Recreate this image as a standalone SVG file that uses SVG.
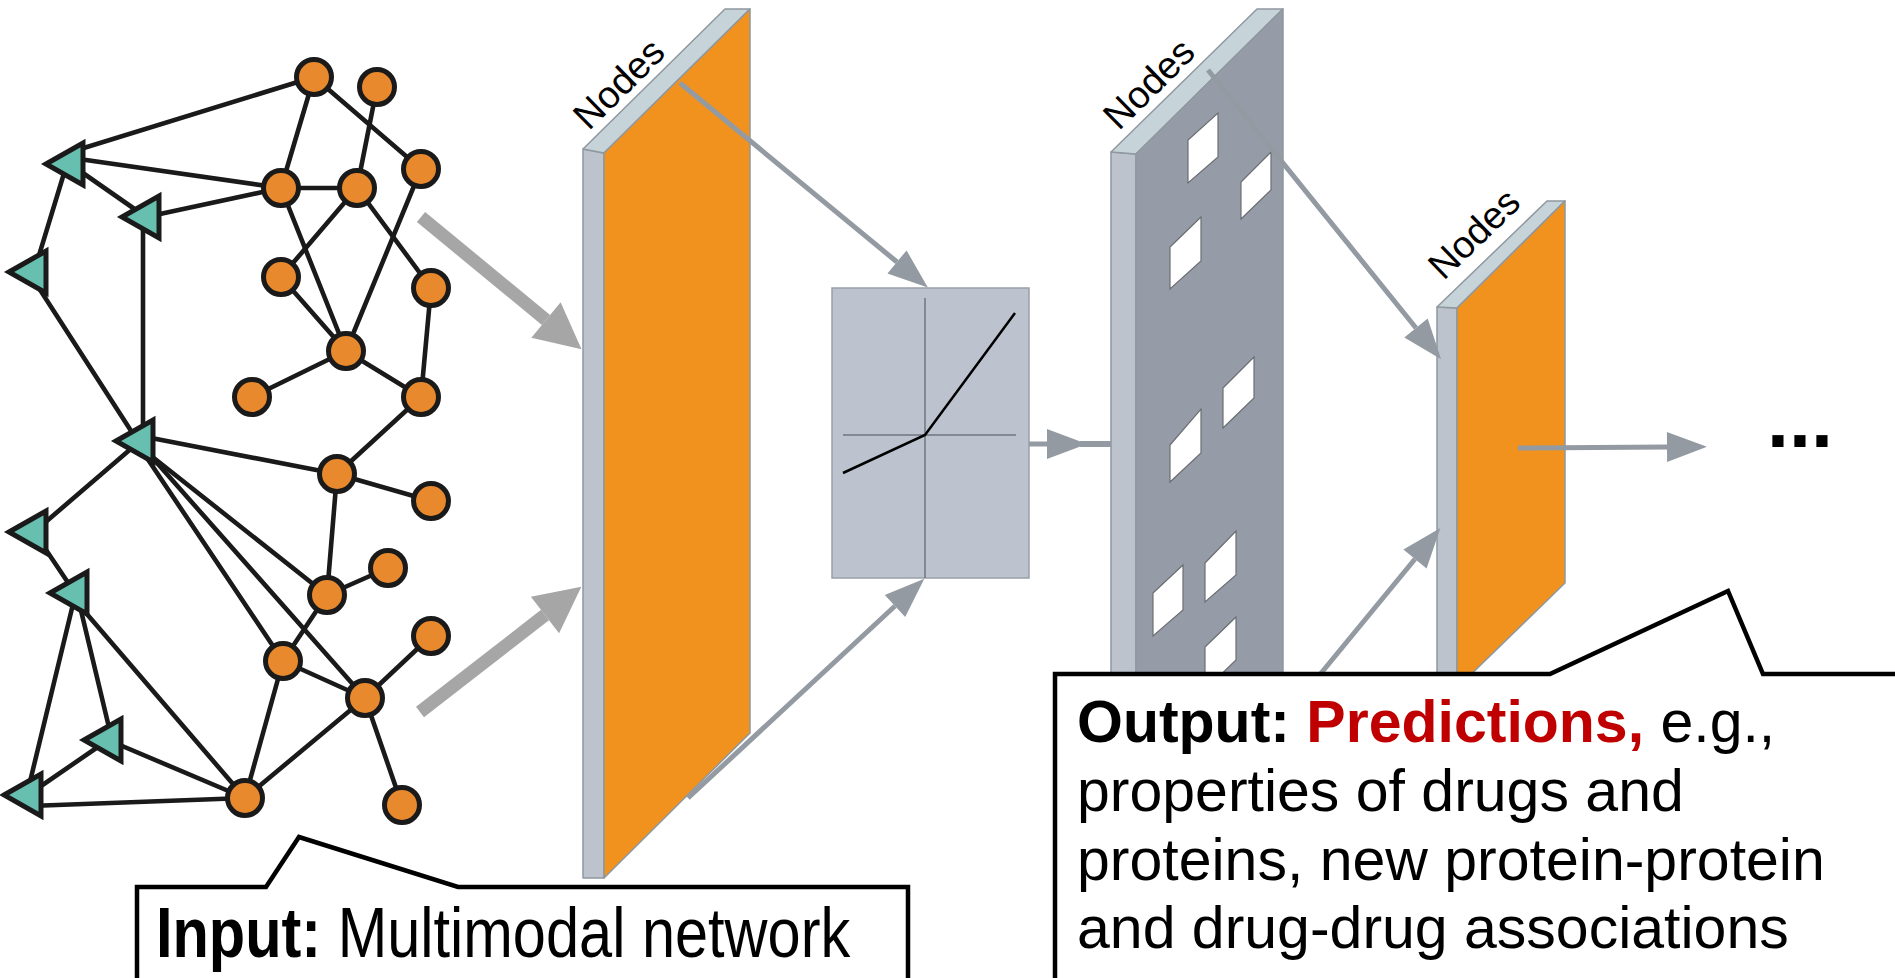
<svg xmlns="http://www.w3.org/2000/svg" width="1895" height="978" viewBox="0 0 1895 978">
  <defs>
    <style>
      .edge { stroke:#1a1a1a; stroke-width:4.6; fill:none; stroke-linecap:round; }
      .prot { fill:#e8892e; stroke:#1a1a1a; stroke-width:5; }
      .drug { fill:#67bfb0; stroke:#1a1a1a; stroke-width:5; stroke-linejoin:miter; }
      .top { fill:#c6d3d9; stroke:#8f989f; stroke-width:1.5; stroke-linejoin:round; }
      .side { fill:#bcc3cd; stroke:#8f989f; stroke-width:1.5; stroke-linejoin:round; }
      .orange { fill:#f2921e; stroke:#8f989f; stroke-width:1.5; stroke-linejoin:round; }
      .slate { fill:#969ca7; stroke:#8f989f; stroke-width:1.5; stroke-linejoin:round; }
      .hole { fill:#ffffff; stroke:#6b6e72; stroke-width:1.2; }
      .thick { stroke:#a6a6a6; stroke-width:13; fill:none; marker-end:url(#headThick); }
      .thin { stroke:#939aa1; stroke-width:5; fill:none; marker-end:url(#head); }
      .thin6 { stroke:#939aa1; stroke-width:6; fill:none; }
      .txt { font-family:"Liberation Sans", Arial, Helvetica, sans-serif; fill:#000; }
      .callout { fill:#ffffff; stroke:#000; stroke-width:4.5; stroke-linejoin:miter; }
    </style>
    <marker id="headThick" markerUnits="userSpaceOnUse" markerWidth="47" markerHeight="47" refX="0" refY="23" orient="auto" overflow="visible">
      <path d="M0,0 L46,23 L0,46 Z" fill="#a6a6a6"/>
    </marker>
    <marker id="head" markerUnits="userSpaceOnUse" markerWidth="41" markerHeight="31" refX="0" refY="15" orient="auto" overflow="visible">
      <path d="M0,0 L40,15 L0,30 Z" fill="#939aa1"/>
    </marker>
    <path id="tri" d="M1,0 L38,-21 L38,21 Z"/>
  </defs>

  <rect width="1895" height="978" fill="#ffffff"/>

  <!-- multimodal input network: links -->
  <g id="network-links">
    <line class="edge" x1="314" y1="77" x2="74" y2="151"/>
    <line class="edge" x1="281" y1="188" x2="72" y2="158"/>
    <line class="edge" x1="70" y1="164" x2="146" y2="217"/>
    <line class="edge" x1="281" y1="188" x2="146" y2="217"/>
    <line class="edge" x1="65" y1="170" x2="37" y2="262"/>
    <line class="edge" x1="143" y1="220" x2="143" y2="440"/>
    <line class="edge" x1="35" y1="282" x2="135" y2="437"/>
    <line class="edge" x1="314" y1="77" x2="281" y2="188"/>
    <line class="edge" x1="314" y1="77" x2="421" y2="169"/>
    <line class="edge" x1="377" y1="87" x2="357" y2="188"/>
    <line class="edge" x1="281" y1="188" x2="357" y2="188"/>
    <line class="edge" x1="357" y1="188" x2="281" y2="277"/>
    <line class="edge" x1="281" y1="188" x2="346" y2="351"/>
    <line class="edge" x1="357" y1="188" x2="431" y2="288"/>
    <line class="edge" x1="421" y1="169" x2="346" y2="351"/>
    <line class="edge" x1="281" y1="277" x2="346" y2="351"/>
    <line class="edge" x1="431" y1="288" x2="421" y2="397"/>
    <line class="edge" x1="346" y1="351" x2="252" y2="397"/>
    <line class="edge" x1="346" y1="351" x2="421" y2="397"/>
    <line class="edge" x1="421" y1="397" x2="337" y2="474"/>
    <line class="edge" x1="141" y1="436" x2="337" y2="474"/>
    <line class="edge" x1="150" y1="455" x2="327" y2="595"/>
    <line class="edge" x1="150" y1="455" x2="365" y2="698"/>
    <line class="edge" x1="143" y1="452" x2="283" y2="661"/>
    <line class="edge" x1="140" y1="441" x2="34" y2="532"/>
    <line class="edge" x1="34" y1="532" x2="75" y2="593"/>
    <line class="edge" x1="74" y1="600" x2="28" y2="790"/>
    <line class="edge" x1="78" y1="598" x2="112" y2="740"/>
    <line class="edge" x1="80" y1="606" x2="245" y2="798"/>
    <line class="edge" x1="327" y1="595" x2="388" y2="568"/>
    <line class="edge" x1="337" y1="474" x2="431" y2="501"/>
    <line class="edge" x1="337" y1="474" x2="327" y2="595"/>
    <line class="edge" x1="327" y1="595" x2="283" y2="661"/>
    <line class="edge" x1="283" y1="661" x2="365" y2="698"/>
    <line class="edge" x1="365" y1="698" x2="431" y2="636"/>
    <line class="edge" x1="365" y1="698" x2="402" y2="805"/>
    <line class="edge" x1="283" y1="661" x2="245" y2="798"/>
    <line class="edge" x1="365" y1="698" x2="245" y2="798"/>
    <line class="edge" x1="245" y1="798" x2="108" y2="740"/>
    <line class="edge" x1="245" y1="798" x2="30" y2="806"/>
    <line class="edge" x1="108" y1="740" x2="28" y2="795"/>
  </g>

  <!-- drug nodes (triangles) -->
  <g id="drug-1"><use href="#tri" class="drug" x="45" y="164"/></g>
  <g id="drug-2"><use href="#tri" class="drug" x="121" y="217"/></g>
  <g id="drug-3"><use href="#tri" class="drug" x="8" y="272"/></g>
  <g id="drug-4"><use href="#tri" class="drug" x="115" y="441"/></g>
  <g id="drug-5"><use href="#tri" class="drug" x="8" y="532"/></g>
  <g id="drug-6"><use href="#tri" class="drug" x="49" y="593"/></g>
  <g id="drug-7"><use href="#tri" class="drug" x="83" y="740"/></g>
  <g id="drug-8"><use href="#tri" class="drug" x="3" y="795"/></g>

  <!-- protein nodes (circles) -->
  <g id="protein-1"><circle class="prot" cx="314" cy="77" r="17.5"/></g>
  <g id="protein-2"><circle class="prot" cx="377" cy="87" r="17.5"/></g>
  <g id="protein-3"><circle class="prot" cx="421" cy="169" r="17.5"/></g>
  <g id="protein-4"><circle class="prot" cx="281" cy="188" r="17.5"/></g>
  <g id="protein-5"><circle class="prot" cx="357" cy="188" r="17.5"/></g>
  <g id="protein-6"><circle class="prot" cx="281" cy="277" r="17.5"/></g>
  <g id="protein-7"><circle class="prot" cx="431" cy="288" r="17.5"/></g>
  <g id="protein-8"><circle class="prot" cx="346" cy="351" r="17.5"/></g>
  <g id="protein-9"><circle class="prot" cx="252" cy="397" r="17.5"/></g>
  <g id="protein-10"><circle class="prot" cx="421" cy="397" r="17.5"/></g>
  <g id="protein-11"><circle class="prot" cx="337" cy="474" r="17.5"/></g>
  <g id="protein-12"><circle class="prot" cx="431" cy="501" r="17.5"/></g>
  <g id="protein-13"><circle class="prot" cx="388" cy="568" r="17.5"/></g>
  <g id="protein-14"><circle class="prot" cx="327" cy="595" r="17.5"/></g>
  <g id="protein-15"><circle class="prot" cx="431" cy="636" r="17.5"/></g>
  <g id="protein-16"><circle class="prot" cx="283" cy="661" r="17.5"/></g>
  <g id="protein-17"><circle class="prot" cx="365" cy="698" r="17.5"/></g>
  <g id="protein-18"><circle class="prot" cx="245" cy="798" r="17.5"/></g>
  <g id="protein-19"><circle class="prot" cx="402" cy="805" r="17.5"/></g>

  <!-- layer 1: node embeddings -->
  <g id="layer-1">
    <polygon class="side" points="583,149 604,153 604,878 583,878"/>
    <polygon class="top" points="583,149 725,9 750,9 604,153"/>
    <polygon class="orange" points="604,153 750,9 750,733 604,878"/>
    <text class="txt" font-size="38" text-anchor="middle" transform="translate(628,93) rotate(-44.5)">Nodes</text>
  </g>

  <!-- activation function -->
  <g id="activation">
    <rect x="832" y="288" width="197" height="290" fill="#bcc3ce" stroke="#98a0a7" stroke-width="1.5"/>
    <line x1="925" y1="298" x2="925" y2="578" stroke="#6f767c" stroke-width="1.5"/>
    <line x1="843" y1="435" x2="1016" y2="435" stroke="#6f767c" stroke-width="1.5"/>
    <polyline points="843,473 925,435 1015,313" fill="none" stroke="#000" stroke-width="2.5"/>
  </g>

  <!-- layer 2: dropout -->
  <g id="layer-2">
    <polygon class="side" points="1111,152 1136,154 1136,900 1111,900"/>
    <polygon class="top" points="1111,152 1257,9 1283,9 1136,154"/>
    <polygon class="slate" points="1136,154 1283,9 1283,900 1136,900"/>
    <polygon class="hole" points="1188,140 1218,113 1218,157 1188,183"/>
    <polygon class="hole" points="1241,182 1271,152 1271,190 1241,219"/>
    <polygon class="hole" points="1170,247 1201,217 1201,261 1170,289"/>
    <polygon class="hole" points="1223,388 1254,357 1254,398 1223,428"/>
    <polygon class="hole" points="1170,445 1201,409 1201,453 1170,482"/>
    <polygon class="hole" points="1205,563 1236,531 1236,575 1205,602"/>
    <polygon class="hole" points="1153,593 1183,565 1183,610 1153,636"/>
    <polygon class="hole" points="1205,647 1236,617 1236,660 1205,690"/>
    <text class="txt" font-size="38" text-anchor="middle" transform="translate(1158,93) rotate(-44.5)">Nodes</text>
  </g>

  <!-- layer 3: output embeddings -->
  <g id="layer-3">
    <polygon class="side" points="1437,307 1457,308 1457,760 1437,760"/>
    <polygon class="top" points="1437,307 1547,201 1565,201 1457,308"/>
    <polygon class="orange" points="1457,308 1565,201 1565,583 1457,688"/>
    <text class="txt" font-size="38" text-anchor="middle" transform="translate(1483,243) rotate(-44)">Nodes</text>
  </g>

  <!-- data flow -->
  <g id="connectors">
    <line class="thick" x1="421" y1="217" x2="546" y2="320"/>
    <line class="thick" x1="420" y1="712" x2="545" y2="615"/>
    <line class="thin" x1="680" y1="83" x2="897" y2="262"/>
    <line class="thin" x1="688" y1="798" x2="895" y2="606"/>
    <line class="thin6" x1="1080" y1="444" x2="1111" y2="444"/>
    <line class="thin" stroke-width="6" x1="1029" y1="444" x2="1047" y2="444"/>
    <line class="thin" x1="1208" y1="70" x2="1416" y2="328"/>
    <line class="thin" x1="1299" y1="700" x2="1415" y2="559"/>
    <line class="thin" stroke-width="6" x1="1518" y1="448" x2="1667" y2="447"/>
  </g>

  <g id="ellipsis">
    <text class="txt" font-size="79" font-weight="bold" x="1767" y="447">...</text>
  </g>

  <!-- input callout -->
  <g id="input-callout">
    <path class="callout" d="M137,990 L137,887 L266,887 L299,837 L458,887 L908,887 L908,990"/>
    <text class="txt" font-size="70" transform="translate(156,957) scale(0.85,1)"><tspan font-weight="bold">Input:</tspan> Multimodal network</text>
  </g>

  <!-- output callout -->
  <g id="output-callout">
    <path class="callout" d="M1055,990 L1055,674 L1550,674 L1728,591 L1763,674 L1900,674"/>
    <text class="txt" font-size="59" x="1077" y="742"><tspan font-weight="bold">Output: </tspan><tspan font-weight="bold" fill="#c00000">Predictions,</tspan> e.g.,</text>
    <text class="txt" font-size="59" x="1077" y="811">properties of drugs and</text>
    <text class="txt" font-size="59" x="1077" y="880">proteins, new protein-protein</text>
    <text class="txt" font-size="59" x="1077" y="948">and drug-drug associations</text>
  </g>
</svg>
